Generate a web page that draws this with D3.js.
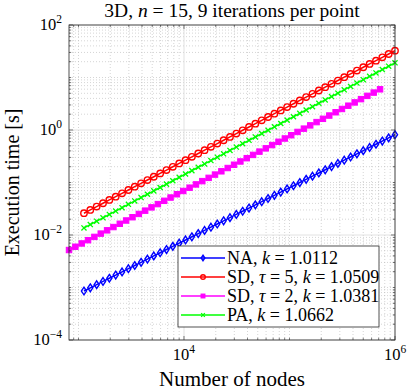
<!DOCTYPE html>
<html>
<head>
<meta charset="utf-8">
<script src="https://cdn.jsdelivr.net/npm/d3@7"></script>
<style>
  body { margin: 0; background: #fff; }
  text { font-family: "Liberation Serif", "DejaVu Serif", serif; fill: #000; }
</style>
</head>
<body>
<div id="chart"></div>
<script>
// ---- data ----
var nodes = [1127, 1294, 1487, 1708, 1961, 2253, 2588, 2972, 3414, 3921,
  4504, 5173, 5942, 6825, 7839, 9004, 10342, 11879, 13644, 15672,
  18000, 20675, 23748, 27277, 31331, 35987, 41335, 47478, 54533, 62637,
  71945, 82637, 94917, 109022, 125223, 143832, 165205, 189755, 217953, 250341,
  287542, 330271, 379349, 435720, 500468, 574838, 660259, 758373, 871067, 1000000];

var nodesSD2 = [813, 934, 1073, 1232, 1415, 1625, 1867, 2144, 2463, 2829,
  3249, 3732, 4287, 4924, 5655, 6496, 7461, 8570, 9843, 11306,
  12986, 14915, 17131, 19677, 22601, 25960, 29817, 34248, 39337, 45183,
  51897, 59609, 68467, 78640, 90326, 103748, 119164, 136872, 157211, 180572,
  207405, 238225, 273626, 314287, 360990, 414633, 476248, 547018, 628305, 721671];

var timeNA = [8.57e-4, 9.86e-4, 1.134e-3, 1.304e-3, 1.500e-3, 1.725e-3, 1.984e-3, 2.283e-3, 2.625e-3, 3.020e-3,
  3.473e-3, 3.995e-3, 4.595e-3, 5.285e-3, 6.079e-3, 6.992e-3, 8.042e-3, 9.250e-3, 0.01064, 0.01224,
  0.01408, 0.01619, 0.01862, 0.02142, 0.02464, 0.02834, 0.03259, 0.03749, 0.04312, 0.04959,
  0.05704, 0.06561, 0.07547, 0.08680, 0.09984, 0.1148, 0.1321, 0.1519, 0.1747, 0.2010,
  0.2312, 0.2659, 0.3058, 0.3518, 0.4046, 0.4654, 0.5353, 0.6157, 0.7081, 0.8145];

var timeSD5 = [0.02600, 0.03007, 0.03478, 0.04023, 0.04653, 0.05382, 0.06224, 0.07199, 0.08327, 0.09631,
  0.1114, 0.1288, 0.1490, 0.1723, 0.1993, 0.2306, 0.2667, 0.3084, 0.3567, 0.4126,
  0.4772, 0.5519, 0.6383, 0.7383, 0.8539, 0.9877, 1.142, 1.321, 1.528, 1.767,
  2.044, 2.364, 2.735, 3.163, 3.658, 4.231, 4.894, 5.660, 6.546, 7.572,
  8.757, 10.13, 11.72, 13.55, 15.67, 18.13, 20.96, 24.25, 28.04, 32.44];

var timeSD2 = [5.176e-3, 5.977e-3, 6.902e-3, 7.969e-3, 9.202e-3, 0.01063, 0.01227, 0.01417, 0.01636, 0.01889,
  0.02181, 0.02519, 0.02909, 0.03359, 0.03878, 0.04478, 0.05171, 0.05971, 0.06895, 0.07962,
  0.09193, 0.1062, 0.1226, 0.1415, 0.1634, 0.1887, 0.2179, 0.2516, 0.2906, 0.3355,
  0.3874, 0.4474, 0.5166, 0.5965, 0.6888, 0.7954, 0.9184, 1.061, 1.225, 1.414,
  1.633, 1.885, 2.177, 2.514, 2.903, 3.352, 3.871, 4.469, 5.161, 5.959];

var timePA = [0.01365, 0.01582, 0.01834, 0.02126, 0.02464, 0.02857, 0.03311, 0.03839, 0.04450, 0.05158,
  0.05979, 0.06931, 0.08035, 0.09314, 0.1080, 0.1252, 0.1451, 0.1682, 0.1950, 0.2260,
  0.2620, 0.3037, 0.3520, 0.4081, 0.4730, 0.5484, 0.6357, 0.7368, 0.8542, 0.9901,
  1.148, 1.331, 1.542, 1.788, 2.073, 2.402, 2.785, 3.228, 3.742, 4.338,
  5.029, 5.829, 6.757, 7.833, 9.080, 10.53, 12.20, 14.14, 16.40, 19.01];

var xTicks = [1e4, 1e6];
var yTicks = [1e-4, 1e-2, 1e0, 1e2];

var legendLabels = [
  [["NA, ", false], ["k", true], [" = 1.0112", false]],
  [["SD, ", false], ["\u03c4", true], [" = 5, ", false], ["k", true], [" = 1.0509", false]],
  [["SD, ", false], ["\u03c4", true], [" = 2, ", false], ["k", true], [" = 1.0381", false]],
  [["PA, ", false], ["k", true], [" = 1.0662", false]]
];

// ---- layout ----
var W = 407, H = 391;
var margin = {top: 25, right: 12, bottom: 51, left: 69};
var width = W - margin.left - margin.right,
    height = H - margin.top - margin.bottom;

var x = d3.scaleLog().domain([813, 1e6]).range([0, width]);
var y = d3.scaleLog().domain([1e-4, 1e2]).range([height, 0]);

var svg = d3.select("#chart").append("svg")
  .attr("width", W).attr("height", H);

var g = svg.append("g")
  .attr("transform", "translate(" + margin.left + "," + margin.top + ")");

// minor / major grid
var xMinor = [], yMinor = [];
for (var e = 2; e <= 5; e++) {
  for (var m = 1; m <= 9; m++) {
    var v = m * Math.pow(10, e);
    if (v > 813 && v < 1e6 && xTicks.indexOf(v) < 0) xMinor.push(v);
  }
}
for (var e = -4; e <= 1; e++) {
  for (var m = 1; m <= 9; m++) {
    var v = m * Math.pow(10, e);
    var isMajor = (m == 1 && e % 2 == 0);
    if (!isMajor) yMinor.push(v);
  }
}

g.selectAll(".xminor").data(xMinor).enter().append("line")
  .attr("x1", d => x(d)).attr("x2", d => x(d))
  .attr("y1", 0).attr("y2", height)
  .attr("stroke", "#b8b8b8").attr("stroke-width", 0.6)
  .attr("stroke-dasharray", "1,2");
g.selectAll(".yminor").data(yMinor).enter().append("line")
  .attr("y1", d => y(d)).attr("y2", d => y(d))
  .attr("x1", 0).attr("x2", width)
  .attr("stroke", "#b8b8b8").attr("stroke-width", 0.6)
  .attr("stroke-dasharray", "1,2");

g.selectAll(".xmajor").data(xTicks).enter().append("line")
  .attr("x1", d => x(d)).attr("x2", d => x(d))
  .attr("y1", 0).attr("y2", height)
  .attr("stroke", "#dadada").attr("stroke-width", 0.8);
g.selectAll(".ymajor").data(yTicks).enter().append("line")
  .attr("y1", d => y(d)).attr("y2", d => y(d))
  .attr("x1", 0).attr("x2", width)
  .attr("stroke", "#dadada").attr("stroke-width", 0.8);

// ---- series ----
var series = [
  {name: "NA", xs: nodes, ys: timeNA, color: "#0000ff", marker: "diamond"},
  {name: "SD5", xs: nodes, ys: timeSD5, color: "#ff0000", marker: "circle"},
  {name: "SD2", xs: nodesSD2, ys: timeSD2, color: "#ff00ff", marker: "square"},
  {name: "PA", xs: nodes, ys: timePA, color: "#00ff00", marker: "cross"}
];

var line = d3.line()
  .x(d => x(d[0]))
  .y(d => y(d[1]));

function drawMarker(sel, type, color, s) {
  if (type == "diamond") {
    sel.append("path")
      .attr("d", "M0," + (-s * 1.2) + "L" + (s * 0.8) + ",0L0," + (s * 1.2) + "L" + (-s * 0.8) + ",0Z")
      .attr("fill", "none").attr("stroke", color).attr("stroke-width", 1.4);
  } else if (type == "circle") {
    sel.append("circle").attr("r", s)
      .attr("fill", "none").attr("stroke", color).attr("stroke-width", 1.4);
  } else if (type == "square") {
    sel.append("rect").attr("x", -s * 0.85).attr("y", -s * 0.85)
      .attr("width", s * 1.7).attr("height", s * 1.7)
      .attr("fill", color).attr("stroke", color).attr("stroke-width", 1);
  } else if (type == "cross") {
    var c = s * 0.8;
    sel.append("path")
      .attr("d", "M" + (-c) + "," + (-c) + "L" + c + "," + c + "M" + (-c) + "," + c + "L" + c + "," + (-c))
      .attr("fill", "none").attr("stroke", color).attr("stroke-width", 1.3);
  }
}

series.forEach(function(s) {
  var pts = s.xs.map((v, i) => [v, s.ys[i]]);
  g.append("path")
    .datum(pts)
    .attr("fill", "none")
    .attr("stroke", s.color)
    .attr("stroke-width", 1.5)
    .attr("d", line);
  g.selectAll(".m-" + s.name).data(pts).enter().append("g")
    .attr("transform", d => "translate(" + x(d[0]) + "," + y(d[1]) + ")")
    .each(function() { drawMarker(d3.select(this), s.marker, s.color, 3.2); });
});

// ---- axes box and ticks ----
var axisColor = "#262626";
g.append("rect").attr("width", width).attr("height", height)
  .attr("fill", "none").attr("stroke", axisColor).attr("stroke-width", 0.8);

var tickG = g.append("g").attr("stroke", axisColor).attr("stroke-width", 0.6);
xTicks.concat(xMinor).forEach(function(v) {
  var len = xTicks.indexOf(v) >= 0 ? 4 : 2.2;
  tickG.append("line").attr("x1", x(v)).attr("x2", x(v)).attr("y1", height).attr("y2", height - len);
  tickG.append("line").attr("x1", x(v)).attr("x2", x(v)).attr("y1", 0).attr("y2", len);
});
yTicks.concat(yMinor).forEach(function(v) {
  var len = yTicks.indexOf(v) >= 0 ? 4 : 2.2;
  tickG.append("line").attr("y1", y(v)).attr("y2", y(v)).attr("x1", 0).attr("x2", len);
  tickG.append("line").attr("y1", y(v)).attr("y2", y(v)).attr("x1", width).attr("x2", width - len);
});

function powLabel(sel, v) {
  var ex = Math.round(Math.log10(v));
  sel.append("tspan").text("10");
  sel.append("tspan").attr("font-size", 11.5).attr("dy", -7)
    .text(ex < 0 ? "\u2212" + (-ex) : ex);
}

g.selectAll(".xlab").data(xTicks).enter().append("text")
  .attr("x", d => x(d))
  .attr("y", height + 20)
  .attr("text-anchor", "middle")
  .attr("font-size", 16.5)
  .each(function(d) { powLabel(d3.select(this), d); });

g.selectAll(".ylab").data(yTicks).enter().append("text")
  .attr("x", -7)
  .attr("y", d => y(d) + 5)
  .attr("text-anchor", "end")
  .attr("font-size", 16.5)
  .each(function(d) { powLabel(d3.select(this), d); });

// ---- titles ----
var title = svg.append("text")
  .attr("x", margin.left + width / 2)
  .attr("y", 17)
  .attr("text-anchor", "middle")
  .attr("font-size", 19.5);
title.append("tspan").text("3D, ");
title.append("tspan").attr("font-style", "italic").text("n");
title.append("tspan").text(" = 15, 9 iterations per point");

svg.append("text")
  .attr("x", margin.left + width / 2)
  .attr("y", 386)
  .attr("text-anchor", "middle")
  .attr("font-size", 21)
  .text("Number of nodes");

svg.append("text")
  .attr("transform", "translate(19," + (margin.top + height / 2) + ") rotate(-90)")
  .attr("text-anchor", "middle")
  .attr("font-size", 20)
  .text("Execution time [s]");

// ---- legend ----
var leg = svg.append("g").attr("transform", "translate(178,246)");
leg.append("rect").attr("width", 201).attr("height", 81)
  .attr("fill", "#fff").attr("stroke", axisColor).attr("stroke-width", 0.8);

series.forEach(function(s, i) {
  var row = leg.append("g").attr("transform", "translate(0," + (12 + i * 19) + ")");
  row.append("line").attr("x1", 3).attr("x2", 47).attr("y1", 0).attr("y2", 0)
    .attr("stroke", s.color).attr("stroke-width", 1.5);
  var mk = row.append("g").attr("transform", "translate(25,0)");
  drawMarker(mk, s.marker, s.color, 2.3);
  var t = row.append("text").attr("x", 49).attr("y", 6).attr("font-size", 18);
  legendLabels[i].forEach(function(p) {
    t.append("tspan").attr("font-style", p[1] ? "italic" : null).text(p[0]);
  });
});
</script>
</body>
</html>
